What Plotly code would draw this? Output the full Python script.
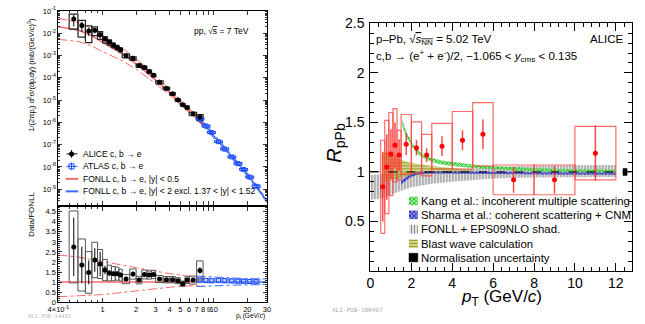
import math
import plotly.graph_objects as go

FONT = "Liberation Sans, Arial, Helvetica, sans-serif"

# ===================== DATA: left panel (pp, sqrt(s) = 7 TeV) =====================
alice_pt = [0.55, 0.65, 0.75, 0.85, 0.95, 1.05, 1.15, 1.25, 1.35, 1.45, 1.625, 1.875,
            2.125, 2.375, 2.625, 2.875, 3.25, 3.75, 4.25, 4.75, 5.25, 5.75, 6.5, 7.5]
alice_edges = [0.5, 0.6, 0.7, 0.8, 0.9, 1.0, 1.1, 1.2, 1.3, 1.4, 1.5, 1.75, 2.0, 2.25,
               2.5, 2.75, 3.0, 3.5, 4.0, 4.5, 5.0, 5.5, 6.0, 7.0, 8.0]
alice_xsec = [4.3e-2, 2.2e-2, 1.26e-2, 1.35e-2, 8.5e-3, 5.3e-3, 3.9e-3, 2.9e-3, 2.3e-3,
              1.8e-3, 9.7e-4, 7.4e-4, 3.5e-4, 2.9e-4, 1.9e-4, 1.3e-4, 6.3e-5, 3.3e-5,
              1.9e-5, 1.0e-5, 6.1e-6, 4.6e-6, 2.4e-6, 1.7e-6]
alice_ratio = [2.75, 1.85, 1.48, 2.1, 1.9, 1.6, 1.45, 1.42, 1.42, 1.35, 1.15, 1.4, 1.1,
               1.38, 1.35, 1.38, 1.15, 1.12, 1.12, 1.07, 0.92, 1.1, 1.1, 1.58]
alice_stat_rel = [0.53, 0.49, 0.4, 0.28, 0.32, 0.13, 0.1, 0.08, 0.08, 0.08, 0.1, 0.08,
                  0.08, 0.06, 0.06, 0.06, 0.06, 0.06, 0.07, 0.07, 0.07, 0.08, 0.08, 0.1]
alice_sys_rel = [0.65, 0.7, 0.7, 0.42, 0.38, 0.33, 0.27, 0.25, 0.23, 0.22, 0.2, 0.18,
                 0.17, 0.16, 0.15, 0.15, 0.15, 0.14, 0.14, 0.14, 0.14, 0.15, 0.18, 0.3]

atlas_pt = [7.5, 8.5, 9.5, 11, 12.5, 14.5, 16.5, 18.5, 21, 24]
atlas_xsec = [1.45e-6, 6.8e-7, 3.5e-7, 1.35e-7, 6.3e-8, 2.8e-8, 1.4e-8, 7.6e-9, 3.5e-9, 1.35e-9]
atlas_ratio = [1.1, 1.08, 1.07, 1.08, 1.07, 1.06, 1.05, 1.04, 1.03, 1.02]
atlas_sys_rel = [0.1, 0.1, 0.1, 0.1, 0.1, 0.1, 0.1, 0.1, 0.1, 0.12]

fonll_pt = [0.4, 0.5, 0.6, 0.7, 0.8, 1.0, 1.25, 1.5, 2.0, 2.5, 3.0, 4.0, 5.0, 6.0, 7.0, 8.0]
fonll_central = [1.95e-2, 1.66e-2, 1.38e-2, 1.02e-2, 7.6e-3, 3.9e-3, 2.04e-3, 1.17e-3,
                 4.2e-4, 1.7e-4, 7.8e-5, 2.2e-5, 7.9e-6, 3.4e-6, 1.58e-6, 8.3e-7]
fonll_up_ratio = [2.35, 2.3, 2.25, 2.18, 2.12, 2.02, 1.9, 1.82, 1.7, 1.6, 1.54, 1.42,
                  1.34, 1.28, 1.24, 1.22]
fonll_low_ratio = [0.27, 0.29, 0.31, 0.33, 0.35, 0.38, 0.44, 0.49, 0.58, 0.64, 0.69,
                   0.75, 0.8, 0.81, 0.82, 0.83]

fonll_atlas_pt = [7, 8, 10, 12, 15, 20, 25, 30]
fonll_atlas_central = [1.82e-6, 9.5e-7, 2.4e-7, 8.3e-8, 2.4e-8, 4.5e-9, 1.05e-9, 2.8e-10]
fonll_atlas_up_ratio = [1.3, 1.28, 1.24, 1.22, 1.2, 1.18, 1.16, 1.15]
fonll_atlas_low_ratio = [0.78, 0.8, 0.82, 0.83, 0.85, 0.86, 0.87, 0.88]

spectrum_ytick_exp = [-9, -8, -7, -6, -5, -4, -3, -2, -1]
ratio_xtick_vals = [0.4, 1, 2, 3, 4, 5, 6, 7, 8, 9, 10, 20, 30]
ratio_xtick_text = ["4×10<sup>-1</sup>", "1", "2", "3", "4", "5", "6", "7", "8", "9",
                    "10", "20", "30"]
ratio_ytick_vals = [0, 0.5, 1, 1.5, 2, 2.5, 3, 3.5, 4, 4.5]

legend_left = ["ALICE c, b → e", "ATLAS c, b → e", "FONLL c, b → e, |y| < 0.5",
               "FONLL c, b → e, |y| < 2 excl. 1.37 < |y| < 1.52"]

# ===================== DATA: right panel (p-Pb, 5.02 TeV) =====================
rpa_pt = [0.6, 0.8, 1.0, 1.2, 1.4, 1.75, 2.25, 2.75, 3.5, 4.5, 5.5, 7, 9, 11]
rpa_edges = [0.5, 0.7, 0.9, 1.1, 1.3, 1.5, 2, 2.5, 3, 4, 5, 6, 8, 10, 12]
rpa_val = [0.85, 1.05, 1.18, 1.27, 1.17, 1.28, 1.245, 1.17, 1.26, 1.32, 1.38, 0.92, 0.92, 1.19]
rpa_stat = [0.35, 0.33, 0.25, 0.23, 0.16, 0.11, 0.08, 0.07, 0.1, 0.1, 0.15, 0.13, 0.14, 0.28]
rpa_sys = [0.47, 0.47, 0.42, 0.37, 0.25, 0.3, 0.26, 0.21, 0.23, 0.29, 0.32, 0.15, 0.15, 0.27]

kang_pt = [1.55, 1.75, 2.0, 2.25, 2.5, 3.0, 3.5, 4.0, 5.0, 6.0, 7.0, 8.0, 10.0, 12.0]
kang_hi = [1.53, 1.41, 1.31, 1.235, 1.19, 1.14, 1.115, 1.10, 1.075, 1.06, 1.048, 1.037, 1.028, 1.022]
kang_lo = [1.47, 1.35, 1.27, 1.19, 1.15, 1.10, 1.075, 1.06, 1.04, 1.025, 1.015, 1.005, 0.998, 0.995]

sharma_pt = [1.5, 1.75, 2.0, 2.25, 2.5, 3, 4, 6, 8, 10, 12]
sharma_hi = [0.915, 0.95, 0.98, 0.995, 1.005, 1.008, 1.008, 1.003, 0.998, 0.995, 0.995]
sharma_lo = [0.875, 0.915, 0.95, 0.97, 0.98, 0.985, 0.985, 0.98, 0.975, 0.972, 0.972]

eps09_pt = [0, 0.5, 1, 1.5, 2, 3, 4, 5, 6, 8, 10, 12]
eps09_hi = [0.97, 0.98, 0.985, 0.99, 0.995, 1.01, 1.02, 1.035, 1.05, 1.065, 1.07, 1.07]
eps09_lo = [0.72, 0.73, 0.77, 0.81, 0.845, 0.88, 0.9, 0.92, 0.935, 0.945, 0.95, 0.95]

bw_pt = [0.6, 1.0, 1.5, 2.0, 2.5, 3.0, 4.0, 5.0]
bw_hi = [1.21, 1.19, 1.12, 1.09, 1.075, 1.06, 1.04, 1.02]
bw_lo = [0.90, 0.91, 0.945, 0.96, 0.975, 0.985, 0.995, 1.0]

norm_pt = 12.45
norm_unc = 0.035

legend_right = ["Kang et al.: incoherent multiple scattering",
                "Sharma et al.: coherent scattering + CNM",
                "FONLL + EPS09NLO shad.",
                "Blast wave calculation",
                "Normalisation uncertainty"]

# ===================== helpers =====================
def box_path(xlo, xhi, ylo, yhi):
    xs, ys = [], []
    for a, b, c, d in zip(xlo, xhi, ylo, yhi):
        xs += [a, b, b, a, a, None]
        ys += [c, c, d, d, c, None]
    return xs, ys


def band(xv, lo, hi):
    return list(xv) + list(xv)[::-1], list(hi) + list(lo)[::-1]


W, H = 645, 324
RED_L = "rgba(255,90,90,0.9)"
BLUE_L = "rgba(40,90,255,0.9)"
BOXW = 0.035  # half width (log10) of ATLAS boxes

# model band styles: (pattern shape, fg colour, bg colour, size, solidity)
STY_EPS = ("|", "#8a8a8a", "rgba(0,0,0,0)", 3, 0.5)
STY_BW = ("-", "#a0a020", "rgba(200,200,120,0.25)", 3, 0.6)
STY_KANG = ("x", "#18b018", "rgba(110,235,110,0.75)", 3, 0.45)
STY_SHARMA = ("x", "#10109a", "rgba(90,90,235,0.7)", 3, 0.45)


def pat(sty):
    shp, fg, bg, sz, sol = sty
    return dict(shape=shp, fgcolor=fg, bgcolor=bg, size=sz, solidity=sol, fillmode="replace")


fig = go.Figure()

# ---------------- left top: spectrum ----------------
fig.add_trace(go.Scatter(x=fonll_pt, y=[c * u for c, u in zip(fonll_central, fonll_up_ratio)],
                         mode="lines", line=dict(color=RED_L, width=1, dash="dashdot"),
                         xaxis="x", yaxis="y"))
fig.add_trace(go.Scatter(x=fonll_pt, y=[c * u for c, u in zip(fonll_central, fonll_low_ratio)],
                         mode="lines", line=dict(color=RED_L, width=1, dash="dashdot"),
                         xaxis="x", yaxis="y"))
fig.add_trace(go.Scatter(x=fonll_pt, y=fonll_central, mode="lines",
                         line=dict(color=RED_L, width=1.5), xaxis="x", yaxis="y"))
fig.add_trace(go.Scatter(x=fonll_atlas_pt,
                         y=[c * u for c, u in zip(fonll_atlas_central, fonll_atlas_up_ratio)],
                         mode="lines", line=dict(color=BLUE_L, width=1, dash="dashdot"),
                         xaxis="x", yaxis="y"))
fig.add_trace(go.Scatter(x=fonll_atlas_pt,
                         y=[c * u for c, u in zip(fonll_atlas_central, fonll_atlas_low_ratio)],
                         mode="lines", line=dict(color=BLUE_L, width=1, dash="dashdot"),
                         xaxis="x", yaxis="y"))
fig.add_trace(go.Scatter(x=fonll_atlas_pt, y=fonll_atlas_central, mode="lines",
                         line=dict(color=BLUE_L, width=1.5), xaxis="x", yaxis="y"))

bx, by = box_path(alice_edges[:-1], alice_edges[1:],
                  [v * (1 - s) for v, s in zip(alice_xsec, alice_sys_rel)],
                  [v * (1 + s) for v, s in zip(alice_xsec, alice_sys_rel)])
fig.add_trace(go.Scatter(x=bx, y=by, mode="lines", line=dict(color="#222", width=1.2),
                         xaxis="x", yaxis="y"))
ax_lo = [p / 10 ** BOXW for p in atlas_pt]
ax_hi = [p * 10 ** BOXW for p in atlas_pt]
bx, by = box_path(ax_lo, ax_hi,
                  [v * (1 - s) for v, s in zip(atlas_xsec, atlas_sys_rel)],
                  [v * (1 + s) for v, s in zip(atlas_xsec, atlas_sys_rel)])
fig.add_trace(go.Scatter(x=bx, y=by, mode="lines", line=dict(color="#1f4fff", width=1.2),
                         xaxis="x", yaxis="y"))
fig.add_trace(go.Scatter(x=atlas_pt, y=atlas_xsec, mode="markers",
                         marker=dict(symbol="square-open", size=4, color="#1f4fff",
                                     line=dict(width=1)),
                         xaxis="x", yaxis="y"))
fig.add_trace(go.Scatter(x=alice_pt, y=alice_xsec, mode="markers",
                         marker=dict(symbol="circle", size=5, color="black"),
                         error_y=dict(type="data", array=[v * s for v, s in zip(alice_xsec, alice_stat_rel)],
                                      color="black", thickness=1, width=0),
                         xaxis="x", yaxis="y"))

# ---------------- left bottom: ratio ----------------
fig.add_trace(go.Scatter(x=fonll_pt, y=fonll_up_ratio, mode="lines",
                         line=dict(color=RED_L, width=1, dash="dashdot"),
                         xaxis="x2", yaxis="y2"))
fig.add_trace(go.Scatter(x=fonll_pt, y=fonll_low_ratio, mode="lines",
                         line=dict(color=RED_L, width=1, dash="dashdot"),
                         xaxis="x2", yaxis="y2"))
fig.add_trace(go.Scatter(x=fonll_pt[:-1], y=[c / c for c in fonll_central[:-1]], mode="lines",
                         line=dict(color=RED_L, width=1.5), xaxis="x2", yaxis="y2"))
fig.add_trace(go.Scatter(x=fonll_atlas_pt, y=fonll_atlas_up_ratio, mode="lines",
                         line=dict(color=BLUE_L, width=1, dash="dashdot"),
                         xaxis="x2", yaxis="y2"))
fig.add_trace(go.Scatter(x=fonll_atlas_pt, y=fonll_atlas_low_ratio, mode="lines",
                         line=dict(color=BLUE_L, width=1, dash="dashdot"),
                         xaxis="x2", yaxis="y2"))
fig.add_trace(go.Scatter(x=fonll_atlas_pt, y=[c / c for c in fonll_atlas_central], mode="lines",
                         line=dict(color=BLUE_L, width=1.5), xaxis="x2", yaxis="y2"))
bx, by = box_path(ax_lo, ax_hi,
                  [v * (1 - s) for v, s in zip(atlas_ratio, atlas_sys_rel)],
                  [v * (1 + s) for v, s in zip(atlas_ratio, atlas_sys_rel)])
fig.add_trace(go.Scatter(x=bx, y=by, mode="lines", line=dict(color="#6f8fff", width=1),
                         fill="toself", fillcolor="rgba(120,150,255,0.35)",
                         xaxis="x2", yaxis="y2"))
fig.add_trace(go.Scatter(x=atlas_pt, y=atlas_ratio, mode="markers",
                         marker=dict(symbol="square-open", size=4, color="#1f4fff",
                                     line=dict(width=1)),
                         xaxis="x2", yaxis="y2"))
bx, by = box_path(alice_edges[:-1], alice_edges[1:],
                  [v * (1 - s) for v, s in zip(alice_ratio, alice_sys_rel)],
                  [v * (1 + s) for v, s in zip(alice_ratio, alice_sys_rel)])
fig.add_trace(go.Scatter(x=bx, y=by, mode="lines", line=dict(color="#555", width=1),
                         xaxis="x2", yaxis="y2"))
fig.add_trace(go.Scatter(x=alice_pt, y=alice_ratio, mode="markers",
                         marker=dict(symbol="circle", size=5, color="black"),
                         error_y=dict(type="data", array=[v * s for v, s in zip(alice_ratio, alice_stat_rel)],
                                      color="black", thickness=1, width=0),
                         xaxis="x2", yaxis="y2"))

# ---------------- right: R_pPb ----------------
for xv, lo, hi, sty in [(eps09_pt, eps09_lo, eps09_hi, STY_EPS),
                        (bw_pt, bw_lo, bw_hi, STY_BW),
                        (kang_pt, kang_lo, kang_hi, STY_KANG),
                        (sharma_pt, sharma_lo, sharma_hi, STY_SHARMA)]:
    bxs, bys = band(xv, lo, hi)
    fig.add_trace(go.Scatter(x=bxs, y=bys, mode="lines", line=dict(width=0, color=sty[1]),
                             fill="toself", fillcolor="rgba(0,0,0,0)", fillpattern=pat(sty),
                             xaxis="x3", yaxis="y3"))

nb_x, nb_y = box_path([norm_pt - 0.1], [norm_pt + 0.1], [1 - norm_unc], [1 + norm_unc])
fig.add_trace(go.Scatter(x=nb_x, y=nb_y, mode="lines", line=dict(width=0.5, color="black"),
                         fill="toself", fillcolor="black", xaxis="x3", yaxis="y3"))

bx, by = box_path(rpa_edges[:-1], rpa_edges[1:],
                  [v - s for v, s in zip(rpa_val, rpa_sys)],
                  [v + s for v, s in zip(rpa_val, rpa_sys)])
fig.add_trace(go.Scatter(x=bx, y=by, mode="lines", line=dict(color="rgba(255,60,60,0.75)", width=1.2),
                         xaxis="x3", yaxis="y3"))
fig.add_trace(go.Scatter(x=rpa_pt, y=rpa_val, mode="markers",
                         marker=dict(symbol="circle", size=5, color="#ff0000"),
                         error_y=dict(type="data", array=rpa_stat, color="rgba(255,40,40,0.85)",
                                      thickness=1.5, width=0),
                         xaxis="x3", yaxis="y3"))

# ---------------- overlay (pixel coords) for legend swatches ----------------
fig.add_trace(go.Scatter(x=[57, 68], y=[152, 152], mode="lines", line=dict(color="black", width=1),
                         xaxis="x4", yaxis="y4"))
fig.add_trace(go.Scatter(x=[62], y=[152], mode="markers", marker=dict(size=5, color="black"),
                         error_y=dict(type="constant", value=4, color="black", thickness=1, width=0),
                         xaxis="x4", yaxis="y4"))
fig.add_trace(go.Scatter(x=[57, 68], y=[165, 165], mode="lines", line=dict(color="#1f4fff", width=1),
                         xaxis="x4", yaxis="y4"))
fig.add_trace(go.Scatter(x=[62], y=[165], mode="markers",
                         marker=dict(symbol="square-open", size=5, color="#1f4fff", line=dict(width=1)),
                         error_y=dict(type="constant", value=4, color="#1f4fff", thickness=1, width=0),
                         xaxis="x4", yaxis="y4"))
fig.add_trace(go.Scatter(x=[56, 69], y=[178, 178], mode="lines", line=dict(color=RED_L, width=2),
                         xaxis="x4", yaxis="y4"))
fig.add_trace(go.Scatter(x=[56, 69], y=[191, 191], mode="lines", line=dict(color=BLUE_L, width=2),
                         xaxis="x4", yaxis="y4"))

leg_y = [201, 215.5, 230.5, 245.5, 260]
for yy, sty in zip(leg_y, [STY_KANG, STY_SHARMA, STY_EPS, STY_BW, None]):
    sx = [407.5, 416.5, 416.5, 407.5, 407.5]
    sy = [yy - 4.5, yy - 4.5, yy + 4.5, yy + 4.5, yy - 4.5]
    if sty is None:
        fig.add_trace(go.Scatter(x=sx, y=sy, mode="lines", line=dict(width=0.5, color="black"),
                                 fill="toself", fillcolor="black", xaxis="x4", yaxis="y4"))
    else:
        fig.add_trace(go.Scatter(x=sx, y=sy, mode="lines", line=dict(width=0, color=sty[1]),
                                 fill="toself", fillcolor="rgba(0,0,0,0)", fillpattern=pat(sty),
                                 xaxis="x4", yaxis="y4"))

# ===================== layout =====================
def P(xp):
    return xp / W


def Q(yp):
    return 1 - yp / H


ytv = [10.0 ** e for e in spectrum_ytick_exp]
ytt = ["10<sup>%d</sup>" % e for e in spectrum_ytick_exp]
ymin = []
for e in range(-10, -1):
    for m in range(2, 10):
        ymin.append(m * 10.0 ** e)
xmin_vals = [0.5, 0.6, 0.7, 0.8, 0.9]

tickfont_s = dict(family=FONT, size=7.5, color="black")
common_small = dict(ticks="inside", mirror="allticks", showline=True, linecolor="black",
                    linewidth=1, tickcolor="black", showgrid=False, zeroline=False,
                    ticklen=4, tickwidth=0.8, tickangle=0)
big_axis = dict(ticks="inside", ticklen=8, tickwidth=1, mirror="allticks", showline=True,
                linecolor="black", linewidth=1.2, tickcolor="black", showgrid=False,
                zeroline=False, tickangle=0, tickfont=dict(family=FONT, size=14, color="black"))

xl_dom = [P(48.5), P(262)]
layout = dict(
    width=W, height=H, margin=dict(l=0, r=0, t=0, b=0),
    paper_bgcolor="white", plot_bgcolor="rgba(0,0,0,0)", showlegend=False,
    font=dict(family=FONT, color="black"),
    xaxis=dict(domain=xl_dom, anchor="y", type="log",
               range=[math.log10(0.4), math.log10(30)], tickvals=ratio_xtick_vals,
               showticklabels=False,
               minor=dict(tickvals=xmin_vals, ticks="inside", ticklen=2, tickcolor="black"),
               **common_small),
    yaxis=dict(domain=[Q(205), Q(3)], anchor="x", type="log", range=[-9.7, -1],
               tickvals=ytv, ticktext=ytt, tickfont=tickfont_s, ticklabelstandoff=0,
               minor=dict(tickvals=ymin, ticks="inside", ticklen=2, tickcolor="black"),
               **common_small),
    xaxis2=dict(domain=xl_dom, anchor="y2", type="log",
                range=[math.log10(0.4), math.log10(30)], tickvals=ratio_xtick_vals,
                ticktext=ratio_xtick_text, tickfont=tickfont_s, ticklabelstandoff=0,
                minor=dict(tickvals=xmin_vals, ticks="inside", ticklen=2, tickcolor="black"),
                **common_small),
    yaxis2=dict(domain=[Q(306.5), Q(207)], anchor="x2", range=[0, 4.75],
                tickvals=ratio_ytick_vals, tickfont=tickfont_s, ticklabelstandoff=0,
                minor=dict(dtick=0.1, ticks="inside", ticklen=2, tickcolor="black"),
                **common_small),
    xaxis3=dict(domain=[P(368), P(636)], anchor="y3", range=[0, 12.8],
                tickvals=[0, 2, 4, 6, 8, 10, 12], ticklabelstandoff=-1,
                minor=dict(dtick=0.4, ticks="inside", ticklen=4, tickcolor="black"), **big_axis),
    yaxis3=dict(domain=[Q(274), Q(16)], anchor="x3", range=[0, 2.5],
                tickvals=[0, 0.5, 1, 1.5, 2, 2.5], ticktext=["", "0.5", "1", "1.5", "2", "2.5"],
                ticklabelstandoff=2,
                minor=dict(dtick=0.1, ticks="inside", ticklen=4, tickcolor="black"), **big_axis),
    xaxis4=dict(domain=[0, 1], anchor="y4", range=[0, W], visible=False, fixedrange=True),
    yaxis4=dict(domain=[0, 1], anchor="x4", range=[H, 0], visible=False, fixedrange=True),
)
fig.update_layout(**layout)

fig.add_shape(type="line", xref="x3 domain", yref="y3", x0=0, x1=1, y0=1, y1=1,
              line=dict(color="black", width=1, dash="dash"))

ann = []
ann.append(dict(x=P(21), y=Q(70),
                text="1/(2πp<sub>t</sub>) d<sup>2</sup>σ/(dp<sub>t</sub>dy) (mb/(GeV/<i>c</i>)<sup>3</sup>)",
                textangle=-90, font=dict(size=7.5)))
ann.append(dict(x=P(21), y=Q(215), text="Data/FONLL", textangle=-90, font=dict(size=8)))
ann.append(dict(x=P(262), y=Q(321), text="p<sub>t</sub> (GeV/<i>c</i>)", xanchor="right",
                font=dict(size=6.5)))
ann.append(dict(x=P(185), y=Q(24), text="pp, √<span style='text-decoration:overline'>s</span> = 7 TeV",
                xanchor="left", font=dict(size=8.5)))
for i, t in enumerate(legend_left):
    ann.append(dict(x=P(72), y=Q(152 + 13 * i), text=t, xanchor="left", font=dict(size=8.5)))
ann.append(dict(x=P(15), y=Q(321), text="ALI-PUB-14461", xanchor="left",
                font=dict(size=5.5, color="#bbb", family="DejaVu Sans Mono")))
ann.append(dict(x=P(372), y=Q(33),
                text="p–Pb, √<span style='text-decoration:overline'><i>s</i><sub>NN</sub></span> = 5.02 TeV",
                xanchor="left", font=dict(size=11.5)))
ann.append(dict(x=P(372), y=Q(50),
                text="c,b → (e<sup>+</sup> + e<sup>-</sup>)/2, −1.065 < <i>y</i><sub>cms</sub> < 0.135",
                xanchor="left", font=dict(size=11.5)))
ann.append(dict(x=P(630), y=Q(32), text="ALICE", xanchor="right", font=dict(size=11.5)))
for yy, t in zip(leg_y, legend_right):
    ann.append(dict(x=P(418), y=Q(yy), text=t, xanchor="left", font=dict(size=11.4)))
ann.append(dict(x=P(502), y=Q(302.5), text="<i>p</i><sub>T</sub> (GeV/<i>c</i>)", font=dict(size=17)))
ann.append(dict(x=P(332), y=Q(140), text="<i>R</i><sub>pPb</sub>", textangle=-90, font=dict(size=20)))
ann.append(dict(x=P(327), y=Q(314), text="ALI-PUB-100497", xanchor="left",
                font=dict(size=6, color="#aaa", family="DejaVu Sans Mono")))
for a in ann:
    a.setdefault("xref", "paper")
    a.setdefault("yref", "paper")
    a.setdefault("showarrow", False)
    a.setdefault("yanchor", "middle")
    a.setdefault("xanchor", "center")
fig.update_layout(annotations=ann)

fig.write_html("out.html", config={"displayModeBar": False, "staticPlot": True},
               post_script="document.body.style.margin='0px';document.body.style.overflow='hidden';")
